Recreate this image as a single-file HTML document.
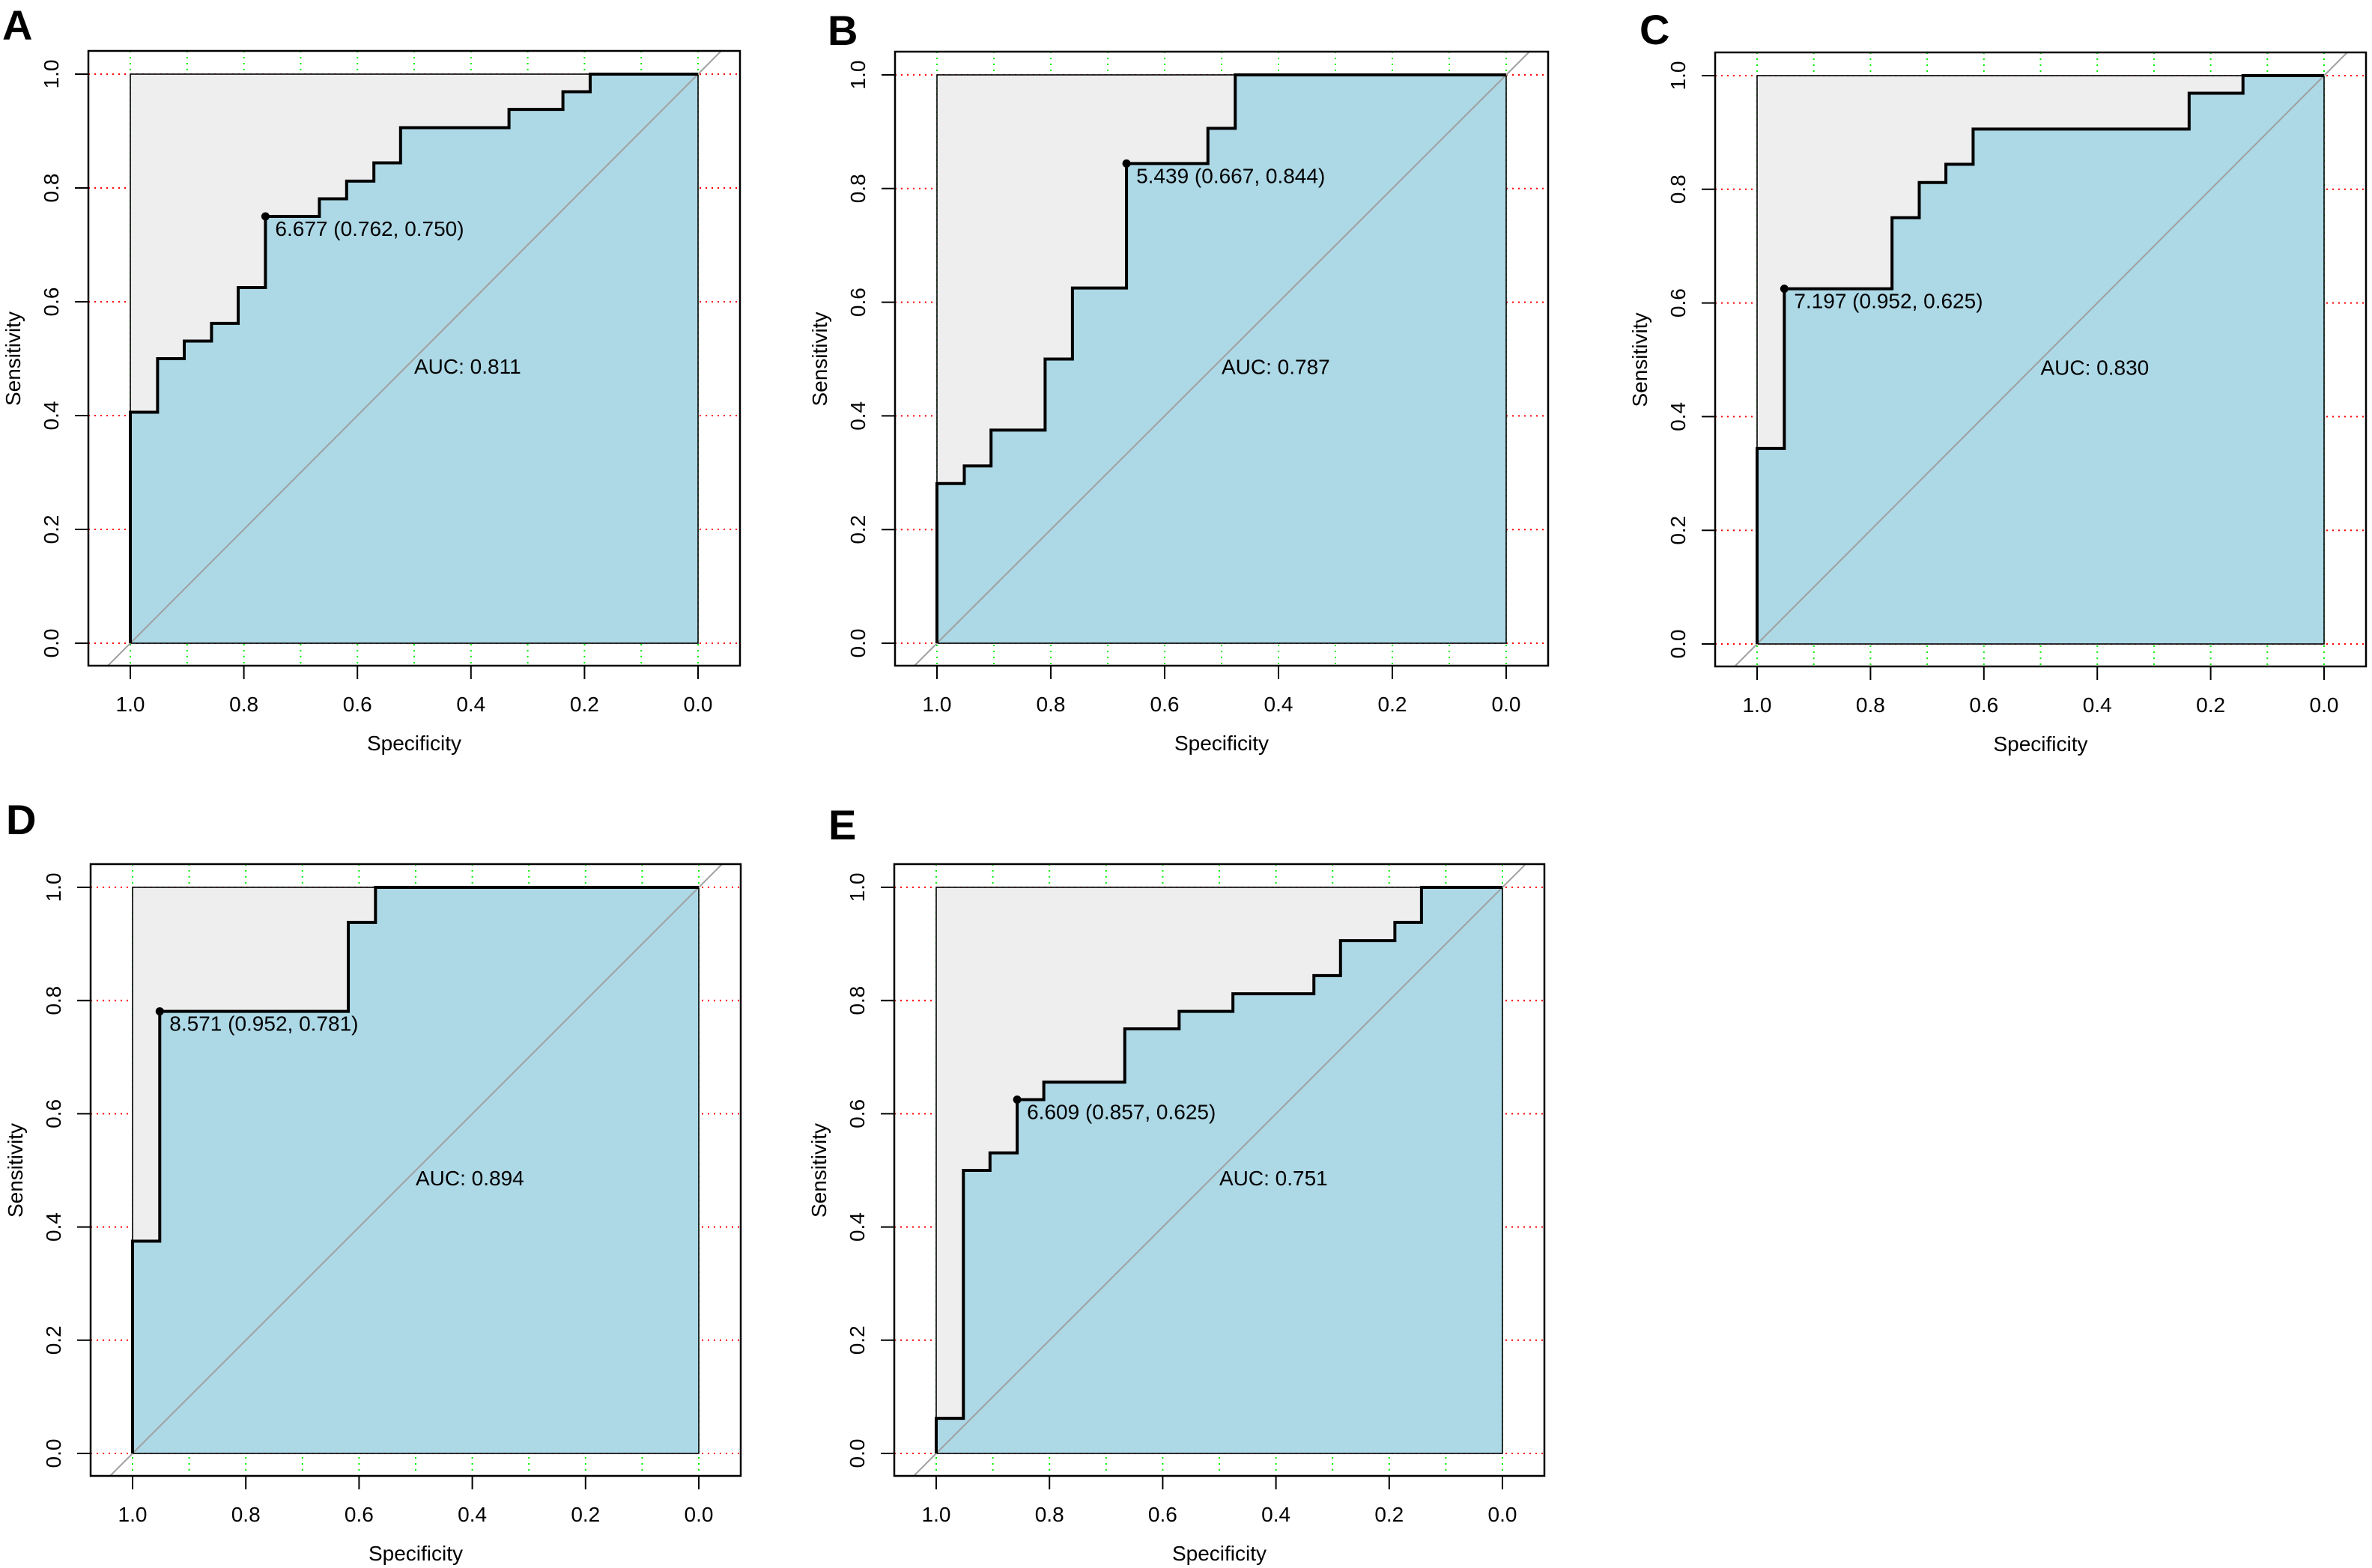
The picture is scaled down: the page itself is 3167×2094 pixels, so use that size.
<!DOCTYPE html>
<html>
<head>
<meta charset="utf-8">
<style>
html,body{margin:0;padding:0;background:#fff;}
svg{display:block;font-family:"Liberation Sans",Arial,sans-serif;}
</style>
</head>
<body>
<svg id="fig" width="3167" height="2094" viewBox="0 0 3167 2094" xmlns="http://www.w3.org/2000/svg"></svg>
<script>
// ---- Data (specificity / sensitivity ROC vertices per panel) ----
const specA = [1,1,0.952,0.952,0.905,0.905,0.857,0.857,0.810,0.810,0.762,0.762,0.667,0.667,0.619,0.619,0.571,0.571,0.524,0.524,0.333,0.333,0.238,0.238,0.190,0.190,0];
const sensA = [0,0.406,0.406,0.5,0.5,0.531,0.531,0.562,0.562,0.625,0.625,0.75,0.75,0.781,0.781,0.812,0.812,0.844,0.844,0.906,0.906,0.938,0.938,0.969,0.969,1,1];
const specB = [1,1,0.952,0.952,0.905,0.905,0.810,0.810,0.762,0.762,0.667,0.667,0.524,0.524,0.476,0.476,0];
const sensB = [0,0.281,0.281,0.312,0.312,0.375,0.375,0.5,0.5,0.625,0.625,0.844,0.844,0.906,0.906,1,1];
const specC = [1,1,0.952,0.952,0.762,0.762,0.714,0.714,0.667,0.667,0.619,0.619,0.238,0.238,0.143,0.143,0];
const sensC = [0,0.344,0.344,0.625,0.625,0.75,0.75,0.812,0.812,0.844,0.844,0.906,0.906,0.969,0.969,1,1];
const specD = [1,1,0.952,0.952,0.619,0.619,0.571,0.571,0];
const sensD = [0,0.375,0.375,0.781,0.781,0.938,0.938,1,1];
const specE = [1,1,0.952,0.952,0.905,0.905,0.857,0.857,0.810,0.810,0.667,0.667,0.571,0.571,0.476,0.476,0.333,0.333,0.286,0.286,0.190,0.190,0.143,0.143,0];
const sensE = [0,0.062,0.062,0.5,0.5,0.531,0.531,0.625,0.625,0.656,0.656,0.75,0.75,0.781,0.781,0.812,0.812,0.844,0.844,0.906,0.906,0.938,0.938,1,1];
const thresholds = ["6.677","5.439","7.197","8.571","6.609"];
const bestSpec = [0.762,0.667,0.952,0.952,0.857];
const bestSens = [0.750,0.844,0.625,0.781,0.625];
const aucValues = ["0.811","0.787","0.830","0.894","0.751"];
const panelLetters = ["A","B","C","D","E"];
const xTickValues = [1.0,0.8,0.6,0.4,0.2,0.0];
const xTickLabels = ["1.0","0.8","0.6","0.4","0.2","0.0"];
const yTickValues = [0.0,0.2,0.4,0.6,0.8,1.0];
const yTickLabels = ["0.0","0.2","0.4","0.6","0.8","1.0"];
const gridX = [1.0,0.9,0.8,0.7,0.6,0.5,0.4,0.3,0.2,0.1,0.0];

// ---- Layout ----
const layout = [
  {x1:174,x0:932,y1:99,y0:859,lx:3,ly:53},
  {x1:1251,x0:2011,y1:100,y0:859,lx:1105,ly:60},
  {x1:2346,x0:3103,y1:101,y0:860,lx:2189,ly:59},
  {x1:177,x0:933,y1:1185,y0:1941,lx:8,ly:1114},
  {x1:1250,x0:2006,y1:1185,y0:1941,lx:1106,ly:1121}
];
const specs=[specA,specB,specC,specD,specE];
const senss=[sensA,sensB,sensC,sensD,sensE];
const NS="http://www.w3.org/2000/svg";
const svg=document.getElementById('fig');
function mk(tag,attrs,parent){const e=document.createElementNS(NS,tag);for(const k in attrs)e.setAttribute(k,attrs[k]);(parent||svg).appendChild(e);return e;}

layout.forEach((L,i)=>{
  const g=mk('g',{});
  
  
  const w=L.x0-L.x1, h=L.y0-L.y1;
  const sx=v=>L.x1+(1-v)*w;
  const sy=v=>L.y0-v*h;
  const bx0=L.x1-56, bx1=L.x0+56, by0=L.y1-31, by1=L.y0+30;
  const clip=mk('clipPath',{id:'clip'+i},g);
  mk('rect',{x:bx0,y:by0,width:bx1-bx0,height:by1-by0},clip);
  // grid
  yTickValues.forEach(v=>{
    const l=mk('line',{x1:bx0,x2:bx1,y1:sy(v),y2:sy(v),stroke:'#ff0000','stroke-width':2,'stroke-dasharray':'2 6'},g);
    
    
  });
  gridX.forEach(v=>{
    const l=mk('line',{x1:sx(v),x2:sx(v),y1:by0,y2:by1,stroke:'#00ee00','stroke-width':2,'stroke-dasharray':'2 6'},g);
    
    
  });
  // gray square
  const sq=mk('rect',{x:sx(1),y:sy(1),width:w,height:h,fill:'#eeeeee'},g);
  
  
  // blue area under curve
  const sp=specs[i], se=senss[i];
  let pts=sp.map((s,k)=>sx(s)+','+sy(se[k])).join(' ');
  const area=mk('polygon',{points:pts+' '+sx(0)+','+sy(0),fill:'#add8e6'},g);
  
  
  // thin square outline
  const ol=mk('rect',{x:sx(1),y:sy(1),width:w,height:h,fill:'none',stroke:'#000','stroke-width':1.6},g);
  
  
  // diagonal
  const dg=mk('line',{x1:sx(1.1),y1:sy(-0.1),x2:sx(-0.1),y2:sy(1.1),stroke:'#a0a0a0','stroke-width':2,'clip-path':'url(#clip'+i+')'},g);
  
  
  // ROC curve
  const curve=mk('polyline',{points:pts,fill:'none',stroke:'#000','stroke-width':4}, g);
  
  
  // best point
  const pt=mk('circle',{cx:sx(bestSpec[i]),cy:sy(bestSens[i]),r:5.5,fill:'#000'},g);
  
  
  const pl=mk('text',{x:sx(bestSpec[i])+13,y:sy(bestSens[i])+26,'font-size':28,fill:'#000'},g);
  pl.textContent=thresholds[i]+' ('+bestSpec[i].toFixed(3)+', '+bestSens[i].toFixed(3)+')';
  
  
  const auc=mk('text',{x:sx(0.5),y:sy(0.5)+20,'font-size':28,fill:'#000'},g);
  auc.textContent='AUC: '+aucValues[i];
  
  
  // box
  const box=mk('rect',{x:bx0,y:by0,width:bx1-bx0,height:by1-by0,fill:'none',stroke:'#000','stroke-width':2.5},g);
  
  
  // x axis
  const xa=mk('g',{},g);
  
  
  xTickValues.forEach((v,k)=>{
    mk('line',{x1:sx(v),x2:sx(v),y1:by1,y2:by1+18,stroke:'#000','stroke-width':2},xa);
    const t=mk('text',{x:sx(v),y:L.y0+91,'font-size':28,'text-anchor':'middle'},xa);
    t.textContent=xTickLabels[k];
    
    
  });
  const xt=mk('text',{x:sx(0.5),y:L.y0+143,'font-size':28,'text-anchor':'middle'},g);
  xt.textContent='Specificity';
  
  
  // y axis
  const ya=mk('g',{},g);
  
  
  yTickValues.forEach((v,k)=>{
    mk('line',{x1:bx0,x2:bx0-18,y1:sy(v),y2:sy(v),stroke:'#000','stroke-width':2},ya);
    const tx=L.x1-96, ty=sy(v);
    const t=mk('text',{x:tx,y:ty,'font-size':28,'text-anchor':'middle',transform:'rotate(-90 '+tx+' '+ty+')'},ya);
    t.textContent=yTickLabels[k];
    
    
  });
  const ytx=L.x1-147, yty=sy(0.5);
  const yt=mk('text',{x:ytx,y:yty,'font-size':28,'text-anchor':'middle',transform:'rotate(-90 '+ytx+' '+yty+')'},g);
  yt.textContent='Sensitivity';
  
  
  // panel letter
  const lt=mk('text',{x:L.lx,y:L.ly,'font-size':56,'font-weight':'bold'},g);
  lt.textContent=panelLetters[i];
  
  
});
</script>
</body>
</html>
